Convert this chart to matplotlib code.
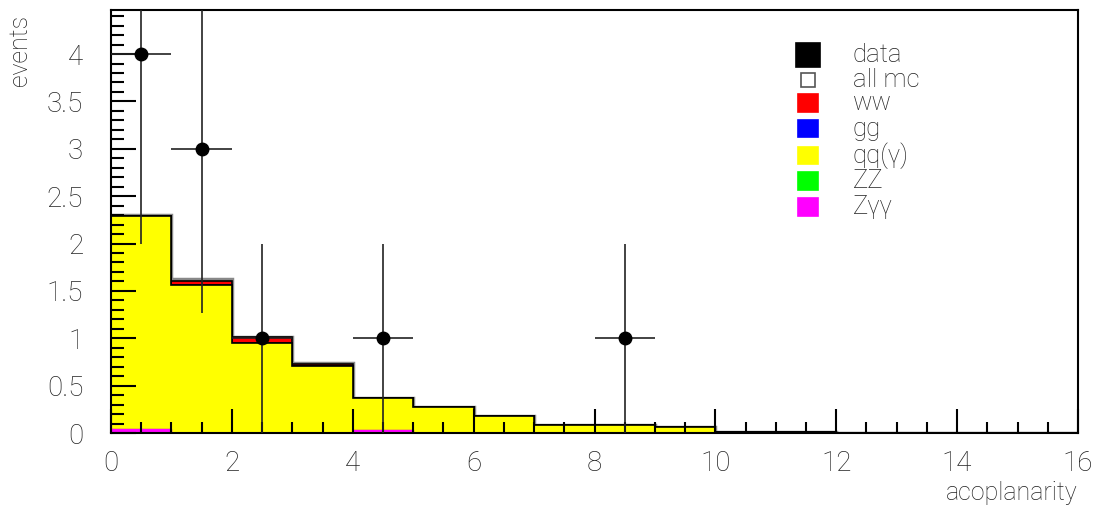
import numpy as np
import matplotlib.pyplot as plt
from matplotlib.patches import Rectangle
from matplotlib.ticker import MultipleLocator

plt.rcParams['font.family'] = ['Roboto', 'DejaVu Sans']
plt.rcParams['font.weight'] = 'light'

# acoplanarity bins (width 1, 0..16)
edges = np.arange(0, 17, 1)

# mc components per bin
zgg = [0.04, 0, 0, 0, 0.03, 0, 0, 0, 0, 0, 0, 0, 0, 0, 0, 0]
zz = [0.0, 0, 0, 0, 0, 0, 0, 0, 0, 0, 0, 0, 0, 0, 0, 0]
qq = [2.25, 1.56, 0.95, 0.71, 0.34, 0.27, 0.18, 0.085, 0.085, 0.065,
      0.008, 0.006, 0.004, 0.004, 0.003, 0.002]
gg = [0, 0, 0, 0, 0, 0, 0, 0, 0, 0, 0, 0, 0, 0, 0, 0]
ww = [0.0, 0.04, 0.06, 0.02, 0, 0, 0, 0, 0, 0, 0, 0, 0, 0, 0, 0]
other = [0.01, 0.03, 0.0, 0.01, 0, 0, 0, 0, 0, 0, 0, 0, 0, 0, 0, 0]

# data
data_x = [0.5, 1.5, 2.5, 4.5, 8.5]
data_y = [4, 3, 1, 1, 1]

fig = plt.figure(figsize=(11.01, 5.09), dpi=100)
ax = fig.add_axes([111 / 1101, 1 - 433 / 509, (1078 - 111) / 1101, (433 - 10) / 509])

c_zgg = np.array(zgg)
c_zz = c_zgg + zz
c_qq = c_zz + qq
c_gg = c_qq + gg
c_ww = c_gg + ww
c_all = c_ww + other

ax.stairs(c_all, edges, fill=True, facecolor='white', edgecolor='#888888', lw=2.5)
ax.stairs(c_ww, edges, fill=True, facecolor='#ff0000', edgecolor='black', lw=1.2)
ax.stairs(c_gg, edges, fill=True, facecolor='#0000ff', edgecolor='black', lw=1.2)
ax.stairs(c_qq, edges, fill=True, facecolor='#ffff00', edgecolor='black', lw=1.2)
ax.stairs(c_zz, edges, fill=True, facecolor='#00ff00', edgecolor='black', lw=0.8)
ax.stairs(c_zgg, edges, fill=True, facecolor='#ff00ff', edgecolor='#ff00ff', lw=1)

err = np.sqrt(data_y)
ax.errorbar(data_x, data_y, xerr=0.5, yerr=err, fmt='o', color='black',
            ecolor='#222222', elinewidth=1.2, markersize=9, capsize=0, zorder=5)

ax.set_xlim(0, 16)
ax.set_ylim(0, 4.465)

ax.xaxis.set_major_locator(MultipleLocator(2))
ax.xaxis.set_minor_locator(MultipleLocator(0.5))
ax.yaxis.set_major_locator(MultipleLocator(0.5))
ax.yaxis.set_minor_locator(MultipleLocator(0.1))
ax.tick_params(which='both', direction='in', top=False, right=False,
               colors='black', labelcolor='#222222', labelsize=20, width=1.5)
ax.tick_params(axis='y', which='major', length=18, pad=20)
ax.tick_params(axis='y', which='minor', length=9)
ax.tick_params(axis='x', which='major', length=17, pad=12)
ax.tick_params(axis='x', which='minor', length=8)
ax.yaxis.set_major_formatter(plt.FuncFormatter(lambda v, p: f'{v:g}'))
for s in ax.spines.values():
    s.set_linewidth(1.5)

fig.text(20 / 1101, 1 - 50 / 509, 'events', rotation=90, ha='center', va='center',
         fontsize=18, color='#222222')
fig.text(1078 / 1101, 1 - 493 / 509, 'acoplanarity', ha='right', va='center',
         fontsize=18, color='#222222')

# legend
entries = [
    ('data', 'black', 'black', 24, 24),
    ('all mc', 'white', '#555555', 14, 14),
    ('ww', '#ff0000', '#ff0000', 20, 17),
    ('gg', '#0000ff', '#0000ff', 20, 17),
    ('qq(γ)', '#ffff00', '#ffff00', 20, 17),
    ('ZZ', '#00ff00', '#00ff00', 20, 17),
    ('Zγγ', '#ff00ff', '#ff00ff', 20, 17),
]
ys = [55, 80, 103, 129, 156, 181, 207]
W, H = 1101, 509
for (lab, fc, ec, w, h), yc in zip(entries, ys):
    fig.patches.append(Rectangle(((808 - w / 2) / W, 1 - (yc + h / 2) / H), w / W, h / H,
                                 transform=fig.transFigure, facecolor=fc,
                                 edgecolor=ec, lw=1.2))
    fig.text(853 / W, 1 - yc / H, lab, ha='left', va='center', fontsize=18.5,
             color='#222222')

fig.savefig('out.png', dpi=100)
